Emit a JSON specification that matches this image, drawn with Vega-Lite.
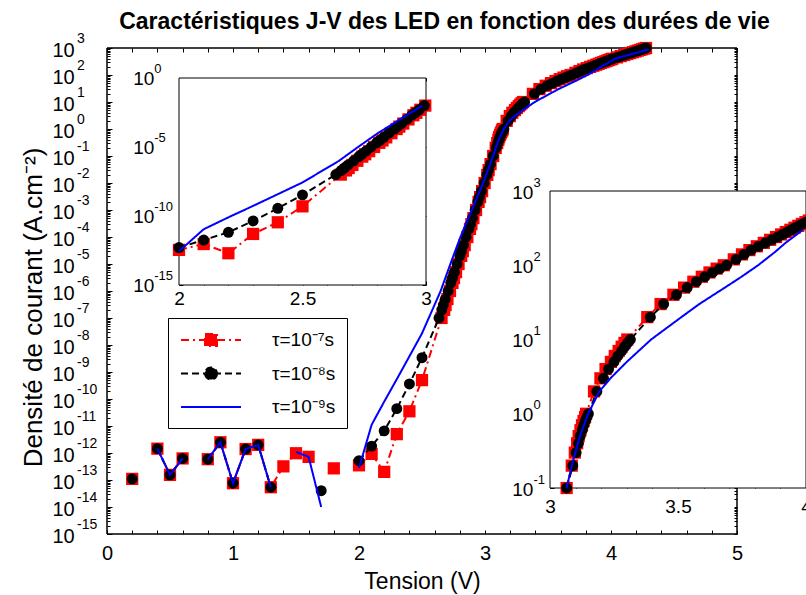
{
  "$schema": "https://vega.github.io/schema/vega-lite/v6.json",
  "width": 699,
  "height": 486,
  "autosize": "none",
  "padding": {"left": 107, "top": 48, "right": 0, "bottom": 61},
  "background": "white",
  "config": {
    "font": "Liberation Sans",
    "view": {"stroke": null},
    "axis": {"grid": false, "domain": false, "tickColor": "black", "labelColor": "black", "titleColor": "black", "labelFont": "Liberation Sans", "titleFont": "Liberation Sans", "labelFontSize": 20, "titleFontSize": 23, "titleFontWeight": "normal", "tickWidth": 1, "labelOverlap": false, "labelFlush": false, "zindex": 1},
    "legend": {"orient": "none", "legendX": 61, "legendY": 270, "fillColor": "white", "strokeColor": "black", "padding": 11, "labelFont": "Liberation Sans", "labelFontSize": 19, "labelColor": "black", "symbolSize": 400, "symbolOffset": 21, "symbolStrokeWidth": 2, "rowPadding": 12.5, "labelOffset": 50, "symbolOpacity": 1, "cornerRadius": 0}
  },
  "title": {"text": "Caractéristiques J-V des LED en fonction des durées de vie", "fontSize": 23, "fontWeight": "bold", "font": "Liberation Sans", "color": "black", "anchor": "middle", "frame": "group", "offset": -21, "baseline": "alphabetic", "dx": -12},
  "datasets": {
    "frame": [{"V": 0, "V2": 5, "J": 1e-15, "J2": 1000}],
    "in1": [{"V": 2, "V2": 3, "J": 1e-15, "J2": 1}],
    "in2": [{"V": 3, "V2": 4, "J": 0.1, "J2": 1000}],
    "d": [
      {"s": "τ=10⁻⁷s", "V": 0.2, "J": 1.1e-13},
      {"s": "τ=10⁻⁷s", "V": 0.3, "J": null},
      {"s": "τ=10⁻⁷s", "V": 0.4, "J": 1.45e-12},
      {"s": "τ=10⁻⁷s", "V": 0.5, "J": 1.55e-13},
      {"s": "τ=10⁻⁷s", "V": 0.6, "J": 6.3e-13},
      {"s": "τ=10⁻⁷s", "V": 0.7, "J": null},
      {"s": "τ=10⁻⁷s", "V": 0.8, "J": 5.9e-13},
      {"s": "τ=10⁻⁷s", "V": 0.9, "J": 2.5e-12},
      {"s": "τ=10⁻⁷s", "V": 1.0, "J": 7.6e-14},
      {"s": "τ=10⁻⁷s", "V": 1.1, "J": 1.4e-12},
      {"s": "τ=10⁻⁷s", "V": 1.2, "J": 2.0e-12},
      {"s": "τ=10⁻⁷s", "V": 1.3, "J": 5.4e-14},
      {"s": "τ=10⁻⁷s", "V": 1.4, "J": 3.2e-13},
      {"s": "τ=10⁻⁷s", "V": 1.5, "J": 9.8e-13},
      {"s": "τ=10⁻⁷s", "V": 1.6, "J": 7.2e-13},
      {"s": "τ=10⁻⁷s", "V": 1.7, "J": null},
      {"s": "τ=10⁻⁷s", "V": 1.8, "J": 2.7e-13},
      {"s": "τ=10⁻⁷s", "V": 1.9, "J": null},
      {"s": "τ=10⁻⁷s", "V": 2.0, "J": 3.5e-13},
      {"s": "τ=10⁻⁷s", "V": 2.1, "J": 9.3e-13},
      {"s": "τ=10⁻⁷s", "V": 2.2, "J": 2.0e-13},
      {"s": "τ=10⁻⁷s", "V": 2.3, "J": 5.0e-12},
      {"s": "τ=10⁻⁷s", "V": 2.4, "J": 3.5e-11},
      {"s": "τ=10⁻⁷s", "V": 2.5, "J": 5.0e-10},
      {"s": "τ=10⁻⁷s", "V": 2.655, "J": 1e-7},
      {"s": "τ=10⁻⁷s", "V": 2.676, "J": 2e-7},
      {"s": "τ=10⁻⁷s", "V": 2.687, "J": 3e-7},
      {"s": "τ=10⁻⁷s", "V": 2.702, "J": 5e-7},
      {"s": "τ=10⁻⁷s", "V": 2.722, "J": 1e-6},
      {"s": "τ=10⁻⁷s", "V": 2.742, "J": 2e-6},
      {"s": "τ=10⁻⁷s", "V": 2.754, "J": 3e-6},
      {"s": "τ=10⁻⁷s", "V": 2.770, "J": 5e-6},
      {"s": "τ=10⁻⁷s", "V": 2.790, "J": 1e-5},
      {"s": "τ=10⁻⁷s", "V": 2.811, "J": 2e-5},
      {"s": "τ=10⁻⁷s", "V": 2.824, "J": 3e-5},
      {"s": "τ=10⁻⁷s", "V": 2.839, "J": 5e-5},
      {"s": "τ=10⁻⁷s", "V": 2.860, "J": 1e-4},
      {"s": "τ=10⁻⁷s", "V": 2.881, "J": 2e-4},
      {"s": "τ=10⁻⁷s", "V": 2.892, "J": 3e-4},
      {"s": "τ=10⁻⁷s", "V": 2.908, "J": 5e-4},
      {"s": "τ=10⁻⁷s", "V": 2.929, "J": 1e-3},
      {"s": "τ=10⁻⁷s", "V": 2.949, "J": 2e-3},
      {"s": "τ=10⁻⁷s", "V": 2.961, "J": 3e-3},
      {"s": "τ=10⁻⁷s", "V": 2.977, "J": 5e-3},
      {"s": "τ=10⁻⁷s", "V": 2.997, "J": 1e-2},
      {"s": "τ=10⁻⁷s", "V": 3.018, "J": 2e-2},
      {"s": "τ=10⁻⁷s", "V": 3.029, "J": 3e-2},
      {"s": "τ=10⁻⁷s", "V": 3.044, "J": 5e-2},
      {"s": "τ=10⁻⁷s", "V": 3.065, "J": 0.1},
      {"s": "τ=10⁻⁷s", "V": 3.085, "J": 0.2},
      {"s": "τ=10⁻⁷s", "V": 3.097, "J": 0.3},
      {"s": "τ=10⁻⁷s", "V": 3.106, "J": 0.4},
      {"s": "τ=10⁻⁷s", "V": 3.112, "J": 0.5},
      {"s": "τ=10⁻⁷s", "V": 3.119, "J": 0.6},
      {"s": "τ=10⁻⁷s", "V": 3.125, "J": 0.7},
      {"s": "τ=10⁻⁷s", "V": 3.131, "J": 0.8},
      {"s": "τ=10⁻⁷s", "V": 3.137, "J": 0.9},
      {"s": "τ=10⁻⁷s", "V": 3.141, "J": 1},
      {"s": "τ=10⁻⁷s", "V": 3.172, "J": 2},
      {"s": "τ=10⁻⁷s", "V": 3.197, "J": 3},
      {"s": "τ=10⁻⁷s", "V": 3.217, "J": 4},
      {"s": "τ=10⁻⁷s", "V": 3.238, "J": 5},
      {"s": "τ=10⁻⁷s", "V": 3.253, "J": 6},
      {"s": "τ=10⁻⁷s", "V": 3.268, "J": 7},
      {"s": "τ=10⁻⁷s", "V": 3.280, "J": 8},
      {"s": "τ=10⁻⁷s", "V": 3.291, "J": 9},
      {"s": "τ=10⁻⁷s", "V": 3.302, "J": 10},
      {"s": "τ=10⁻⁷s", "V": 3.380, "J": 20},
      {"s": "τ=10⁻⁷s", "V": 3.432, "J": 30},
      {"s": "τ=10⁻⁷s", "V": 3.482, "J": 40},
      {"s": "τ=10⁻⁷s", "V": 3.524, "J": 50},
      {"s": "τ=10⁻⁷s", "V": 3.560, "J": 60},
      {"s": "τ=10⁻⁷s", "V": 3.593, "J": 70},
      {"s": "τ=10⁻⁷s", "V": 3.623, "J": 80},
      {"s": "τ=10⁻⁷s", "V": 3.651, "J": 90},
      {"s": "τ=10⁻⁷s", "V": 3.679, "J": 100},
      {"s": "τ=10⁻⁷s", "V": 3.718, "J": 120},
      {"s": "τ=10⁻⁷s", "V": 3.750, "J": 140},
      {"s": "τ=10⁻⁷s", "V": 3.779, "J": 160},
      {"s": "τ=10⁻⁷s", "V": 3.808, "J": 180},
      {"s": "τ=10⁻⁷s", "V": 3.835, "J": 200},
      {"s": "τ=10⁻⁷s", "V": 3.860, "J": 220},
      {"s": "τ=10⁻⁷s", "V": 3.883, "J": 240},
      {"s": "τ=10⁻⁷s", "V": 3.903, "J": 260},
      {"s": "τ=10⁻⁷s", "V": 3.921, "J": 280},
      {"s": "τ=10⁻⁷s", "V": 3.939, "J": 300},
      {"s": "τ=10⁻⁷s", "V": 3.955, "J": 320},
      {"s": "τ=10⁻⁷s", "V": 3.970, "J": 340},
      {"s": "τ=10⁻⁷s", "V": 3.984, "J": 360},
      {"s": "τ=10⁻⁷s", "V": 3.998, "J": 380},
      {"s": "τ=10⁻⁷s", "V": 4.011, "J": 400},
      {"s": "τ=10⁻⁷s", "V": 4.047, "J": 450},
      {"s": "τ=10⁻⁷s", "V": 4.077, "J": 500},
      {"s": "τ=10⁻⁷s", "V": 4.105, "J": 550},
      {"s": "τ=10⁻⁷s", "V": 4.130, "J": 600},
      {"s": "τ=10⁻⁷s", "V": 4.153, "J": 650},
      {"s": "τ=10⁻⁷s", "V": 4.175, "J": 700},
      {"s": "τ=10⁻⁷s", "V": 4.195, "J": 750},
      {"s": "τ=10⁻⁷s", "V": 4.213, "J": 800},
      {"s": "τ=10⁻⁷s", "V": 4.231, "J": 850},
      {"s": "τ=10⁻⁷s", "V": 4.247, "J": 900},
      {"s": "τ=10⁻⁷s", "V": 4.263, "J": 950},
      {"s": "τ=10⁻⁷s", "V": 4.278, "J": 1000},
      {"s": "τ=10⁻⁸s", "V": 0.2, "J": 1.1e-13},
      {"s": "τ=10⁻⁸s", "V": 0.3, "J": null},
      {"s": "τ=10⁻⁸s", "V": 0.4, "J": 1.45e-12},
      {"s": "τ=10⁻⁸s", "V": 0.5, "J": 1.55e-13},
      {"s": "τ=10⁻⁸s", "V": 0.6, "J": 6.3e-13},
      {"s": "τ=10⁻⁸s", "V": 0.7, "J": null},
      {"s": "τ=10⁻⁸s", "V": 0.8, "J": 5.9e-13},
      {"s": "τ=10⁻⁸s", "V": 0.9, "J": 2.5e-12},
      {"s": "τ=10⁻⁸s", "V": 1.0, "J": 7.6e-14},
      {"s": "τ=10⁻⁸s", "V": 1.1, "J": 1.4e-12},
      {"s": "τ=10⁻⁸s", "V": 1.2, "J": 2.0e-12},
      {"s": "τ=10⁻⁸s", "V": 1.3, "J": 5.4e-14},
      {"s": "τ=10⁻⁸s", "V": 1.4, "J": null},
      {"s": "τ=10⁻⁸s", "V": 1.7, "J": 4.0e-14},
      {"s": "τ=10⁻⁸s", "V": 1.8, "J": null},
      {"s": "τ=10⁻⁸s", "V": 2.0, "J": 5.2e-13},
      {"s": "τ=10⁻⁸s", "V": 2.1, "J": 1.8e-12},
      {"s": "τ=10⁻⁸s", "V": 2.2, "J": 6.6e-12},
      {"s": "τ=10⁻⁸s", "V": 2.3, "J": 4.4e-11},
      {"s": "τ=10⁻⁸s", "V": 2.4, "J": 3.6e-10},
      {"s": "τ=10⁻⁸s", "V": 2.5, "J": 3.4e-9},
      {"s": "τ=10⁻⁸s", "V": 2.635, "J": 1e-7},
      {"s": "τ=10⁻⁸s", "V": 2.657, "J": 2e-7},
      {"s": "τ=10⁻⁸s", "V": 2.669, "J": 3e-7},
      {"s": "τ=10⁻⁸s", "V": 2.685, "J": 5e-7},
      {"s": "τ=10⁻⁸s", "V": 2.707, "J": 1e-6},
      {"s": "τ=10⁻⁸s", "V": 2.728, "J": 2e-6},
      {"s": "τ=10⁻⁸s", "V": 2.741, "J": 3e-6},
      {"s": "τ=10⁻⁸s", "V": 2.757, "J": 5e-6},
      {"s": "τ=10⁻⁸s", "V": 2.778, "J": 1e-5},
      {"s": "τ=10⁻⁸s", "V": 2.800, "J": 2e-5},
      {"s": "τ=10⁻⁸s", "V": 2.813, "J": 3e-5},
      {"s": "τ=10⁻⁸s", "V": 2.829, "J": 5e-5},
      {"s": "τ=10⁻⁸s", "V": 2.850, "J": 1e-4},
      {"s": "τ=10⁻⁸s", "V": 2.872, "J": 2e-4},
      {"s": "τ=10⁻⁸s", "V": 2.884, "J": 3e-4},
      {"s": "τ=10⁻⁸s", "V": 2.900, "J": 5e-4},
      {"s": "τ=10⁻⁸s", "V": 2.922, "J": 1e-3},
      {"s": "τ=10⁻⁸s", "V": 2.943, "J": 2e-3},
      {"s": "τ=10⁻⁸s", "V": 2.956, "J": 3e-3},
      {"s": "τ=10⁻⁸s", "V": 2.972, "J": 5e-3},
      {"s": "τ=10⁻⁸s", "V": 2.993, "J": 1e-2},
      {"s": "τ=10⁻⁸s", "V": 3.015, "J": 2e-2},
      {"s": "τ=10⁻⁸s", "V": 3.027, "J": 3e-2},
      {"s": "τ=10⁻⁸s", "V": 3.043, "J": 5e-2},
      {"s": "τ=10⁻⁸s", "V": 3.065, "J": 0.1},
      {"s": "τ=10⁻⁸s", "V": 3.089, "J": 0.2},
      {"s": "τ=10⁻⁸s", "V": 3.102, "J": 0.3},
      {"s": "τ=10⁻⁸s", "V": 3.111, "J": 0.4},
      {"s": "τ=10⁻⁸s", "V": 3.118, "J": 0.5},
      {"s": "τ=10⁻⁸s", "V": 3.126, "J": 0.6},
      {"s": "τ=10⁻⁸s", "V": 3.132, "J": 0.7},
      {"s": "τ=10⁻⁸s", "V": 3.138, "J": 0.8},
      {"s": "τ=10⁻⁸s", "V": 3.144, "J": 0.9},
      {"s": "τ=10⁻⁸s", "V": 3.150, "J": 1},
      {"s": "τ=10⁻⁸s", "V": 3.183, "J": 2},
      {"s": "τ=10⁻⁸s", "V": 3.209, "J": 3},
      {"s": "τ=10⁻⁸s", "V": 3.229, "J": 4},
      {"s": "τ=10⁻⁸s", "V": 3.250, "J": 5},
      {"s": "τ=10⁻⁸s", "V": 3.265, "J": 6},
      {"s": "τ=10⁻⁸s", "V": 3.280, "J": 7},
      {"s": "τ=10⁻⁸s", "V": 3.292, "J": 8},
      {"s": "τ=10⁻⁸s", "V": 3.303, "J": 9},
      {"s": "τ=10⁻⁸s", "V": 3.314, "J": 10},
      {"s": "τ=10⁻⁸s", "V": 3.392, "J": 20},
      {"s": "τ=10⁻⁸s", "V": 3.444, "J": 30},
      {"s": "τ=10⁻⁸s", "V": 3.494, "J": 40},
      {"s": "τ=10⁻⁸s", "V": 3.536, "J": 50},
      {"s": "τ=10⁻⁸s", "V": 3.572, "J": 60},
      {"s": "τ=10⁻⁸s", "V": 3.605, "J": 70},
      {"s": "τ=10⁻⁸s", "V": 3.635, "J": 80},
      {"s": "τ=10⁻⁸s", "V": 3.663, "J": 90},
      {"s": "τ=10⁻⁸s", "V": 3.690, "J": 100},
      {"s": "τ=10⁻⁸s", "V": 3.727, "J": 120},
      {"s": "τ=10⁻⁸s", "V": 3.758, "J": 140},
      {"s": "τ=10⁻⁸s", "V": 3.786, "J": 160},
      {"s": "τ=10⁻⁸s", "V": 3.815, "J": 180},
      {"s": "τ=10⁻⁸s", "V": 3.842, "J": 200},
      {"s": "τ=10⁻⁸s", "V": 3.866, "J": 220},
      {"s": "τ=10⁻⁸s", "V": 3.889, "J": 240},
      {"s": "τ=10⁻⁸s", "V": 3.908, "J": 260},
      {"s": "τ=10⁻⁸s", "V": 3.926, "J": 280},
      {"s": "τ=10⁻⁸s", "V": 3.943, "J": 300},
      {"s": "τ=10⁻⁸s", "V": 3.958, "J": 320},
      {"s": "τ=10⁻⁸s", "V": 3.973, "J": 340},
      {"s": "τ=10⁻⁸s", "V": 3.987, "J": 360},
      {"s": "τ=10⁻⁸s", "V": 4.000, "J": 380},
      {"s": "τ=10⁻⁸s", "V": 4.013, "J": 400},
      {"s": "τ=10⁻⁸s", "V": 4.049, "J": 450},
      {"s": "τ=10⁻⁸s", "V": 4.079, "J": 500},
      {"s": "τ=10⁻⁸s", "V": 4.107, "J": 550},
      {"s": "τ=10⁻⁸s", "V": 4.132, "J": 600},
      {"s": "τ=10⁻⁸s", "V": 4.155, "J": 650},
      {"s": "τ=10⁻⁸s", "V": 4.177, "J": 700},
      {"s": "τ=10⁻⁸s", "V": 4.197, "J": 750},
      {"s": "τ=10⁻⁸s", "V": 4.215, "J": 800},
      {"s": "τ=10⁻⁸s", "V": 4.233, "J": 850},
      {"s": "τ=10⁻⁸s", "V": 4.249, "J": 900},
      {"s": "τ=10⁻⁸s", "V": 4.265, "J": 950},
      {"s": "τ=10⁻⁸s", "V": 4.280, "J": 1000},
      {"s": "τ=10⁻⁹s", "V": 0.2, "J": 1.1e-13},
      {"s": "τ=10⁻⁹s", "V": 0.3, "J": null},
      {"s": "τ=10⁻⁹s", "V": 0.4, "J": 1.45e-12},
      {"s": "τ=10⁻⁹s", "V": 0.5, "J": 1.55e-13},
      {"s": "τ=10⁻⁹s", "V": 0.6, "J": 6.3e-13},
      {"s": "τ=10⁻⁹s", "V": 0.7, "J": null},
      {"s": "τ=10⁻⁹s", "V": 0.8, "J": 5.9e-13},
      {"s": "τ=10⁻⁹s", "V": 0.9, "J": 2.5e-12},
      {"s": "τ=10⁻⁹s", "V": 1.0, "J": 7.6e-14},
      {"s": "τ=10⁻⁹s", "V": 1.1, "J": 1.4e-12},
      {"s": "τ=10⁻⁹s", "V": 1.2, "J": 2.0e-12},
      {"s": "τ=10⁻⁹s", "V": 1.3, "J": 5.4e-14},
      {"s": "τ=10⁻⁹s", "V": 1.4, "J": null},
      {"s": "τ=10⁻⁹s", "V": 1.5, "J": 1.1e-12},
      {"s": "τ=10⁻⁹s", "V": 1.6, "J": 7.2e-13},
      {"s": "τ=10⁻⁹s", "V": 1.7, "J": 1.0e-14},
      {"s": "τ=10⁻⁹s", "V": 1.8, "J": null},
      {"s": "τ=10⁻⁹s", "V": 2.0, "J": 2.8e-13},
      {"s": "τ=10⁻⁹s", "V": 2.1, "J": 1.1e-11},
      {"s": "τ=10⁻⁹s", "V": 2.2, "J": 8e-11},
      {"s": "τ=10⁻⁹s", "V": 2.3, "J": 5.4e-10},
      {"s": "τ=10⁻⁹s", "V": 2.4, "J": 3.8e-9},
      {"s": "τ=10⁻⁹s", "V": 2.5, "J": 2.7e-8},
      {"s": "τ=10⁻⁹s", "V": 2.648, "J": 1e-6},
      {"s": "τ=10⁻⁹s", "V": 2.671, "J": 2e-6},
      {"s": "τ=10⁻⁹s", "V": 2.702, "J": 5e-6},
      {"s": "τ=10⁻⁹s", "V": 2.725, "J": 1e-5},
      {"s": "τ=10⁻⁹s", "V": 2.763, "J": 3e-5},
      {"s": "τ=10⁻⁹s", "V": 2.805, "J": 1e-4},
      {"s": "τ=10⁻⁹s", "V": 2.848, "J": 3e-4},
      {"s": "τ=10⁻⁹s", "V": 2.895, "J": 1e-3},
      {"s": "τ=10⁻⁹s", "V": 2.938, "J": 3e-3},
      {"s": "τ=10⁻⁹s", "V": 2.985, "J": 1e-2},
      {"s": "τ=10⁻⁹s", "V": 3.040, "J": 5e-2},
      {"s": "τ=10⁻⁹s", "V": 3.065, "J": 0.1},
      {"s": "τ=10⁻⁹s", "V": 3.085, "J": 0.2},
      {"s": "τ=10⁻⁹s", "V": 3.117, "J": 0.5},
      {"s": "τ=10⁻⁹s", "V": 3.149, "J": 1},
      {"s": "τ=10⁻⁹s", "V": 3.193, "J": 2},
      {"s": "τ=10⁻⁹s", "V": 3.236, "J": 3},
      {"s": "τ=10⁻⁹s", "V": 3.300, "J": 5},
      {"s": "τ=10⁻⁹s", "V": 3.395, "J": 10},
      {"s": "τ=10⁻⁹s", "V": 3.513, "J": 20},
      {"s": "τ=10⁻⁹s", "V": 3.583, "J": 30},
      {"s": "τ=10⁻⁹s", "V": 3.683, "J": 50},
      {"s": "τ=10⁻⁹s", "V": 3.748, "J": 70},
      {"s": "τ=10⁻⁹s", "V": 3.813, "J": 100},
      {"s": "τ=10⁻⁹s", "V": 3.878, "J": 150},
      {"s": "τ=10⁻⁹s", "V": 3.920, "J": 200},
      {"s": "τ=10⁻⁹s", "V": 3.988, "J": 300},
      {"s": "τ=10⁻⁹s", "V": 4.030, "J": 400},
      {"s": "τ=10⁻⁹s", "V": 4.105, "J": 500},
      {"s": "τ=10⁻⁹s", "V": 4.219, "J": 700},
      {"s": "τ=10⁻⁹s", "V": 4.300, "J": 890}
    ]
  },
  "layer": [
    {
      "data": {"name": "frame"},
      "mark": {"type": "rect", "filled": false, "stroke": "black", "strokeWidth": 1},
      "encoding": {
        "x": {"field": "V", "type": "quantitative", "scale": {"domain": [0, 5], "range": [0, 630], "nice": false, "zero": false}, "axis": {"orient": "top", "values": [0,0.2,0.4,0.6,0.8,1,1.2,1.4,1.6,1.8,2,2.2,2.4,2.6,2.8,3,3.2,3.4,3.6,3.8,4,4.2,4.4,4.6,4.8,5], "labels": false, "tickSize": -4, "title": null}},
        "x2": {"field": "V2"},
        "y": {"field": "J", "type": "quantitative", "scale": {"type": "log", "domain": [1e-15, 1000], "range": [486, 0], "nice": false}, "axis": {"orient": "left", "tickCount": 30, "labels": false, "tickSize": -3, "title": null}},
        "y2": {"field": "J2"}
      }
    },
    {
      "data": {"name": "frame"},
      "mark": {"type": "rect", "filled": false, "stroke": "black", "strokeWidth": 1},
      "encoding": {
        "x": {"field": "V", "type": "quantitative", "scale": {"domain": [0, 5], "range": [0, 630], "nice": false, "zero": false}, "axis": null},
        "x2": {"field": "V2"},
        "y": {"field": "J", "type": "quantitative", "scale": {"type": "log", "domain": [1e-15, 1000], "range": [486, 0], "nice": false}, "axis": {"orient": "right", "offset": -69, "tickCount": 30, "labels": false, "tickSize": -3, "title": null, "zindex": 0}},
        "y2": {"field": "J2"}
      }
    },
    {
      "data": {"name": "frame"},
      "mark": {"type": "rect", "opacity": 0},
      "encoding": {
        "x": {"field": "V", "type": "quantitative", "scale": {"domain": [0, 5], "range": [0, 630], "nice": false, "zero": false}, "axis": null},
        "x2": {"field": "V2"},
        "y": {"field": "J", "type": "quantitative", "scale": {"type": "log", "domain": [1e-15, 1000], "range": [486, 0], "nice": false}, "axis": {"orient": "left", "values": [1e-15,1e-14,1e-13,1e-12,1e-11,1e-10,1e-9,1e-8,1e-7,1e-6,1e-5,1e-4,1e-3,1e-2,1e-1,1,10,100,1000], "labelExpr": "['-15','-14','-13','-12','-11','-10','-9','-8','-7','-6','-5','-4','-3','-2','-1','0','1','2','3'][round(log(datum.value)/LN10)+15]", "ticks": false, "labelAlign": "left", "labelBaseline": "middle", "labelFontSize": 14, "labelPadding": 30.5, "labelOffset": -10, "title": null}},
        "y2": {"field": "J2"}
      }
    },
    {
      "encoding": {
        "x": {"field": "V", "type": "quantitative", "scale": {"domain": [0, 5], "range": [0, 630], "nice": false, "zero": false}, "axis": {"orient": "bottom", "values": [0,0.2,0.4,0.6,0.8,1,1.2,1.4,1.6,1.8,2,2.2,2.4,2.6,2.8,3,3.2,3.4,3.6,3.8,4,4.2,4.4,4.6,4.8,5], "labelExpr": "datum.value % 1 == 0 ? format(datum.value, 'd') : ''", "tickSize": -4, "labelPadding": 13, "title": "Tension (V)", "titleY": 54, "titleBaseline": "alphabetic"}},
        "y": {"field": "J", "type": "quantitative", "scale": {"type": "log", "domain": [1e-15, 1000], "range": [486, 0], "nice": false}, "axis": {"orient": "left", "values": [1e-15,1e-14,1e-13,1e-12,1e-11,1e-10,1e-9,1e-8,1e-7,1e-6,1e-5,1e-4,1e-3,1e-2,1e-1,1,10,100,1000], "labelExpr": "'10'", "labelAlign": "left", "labelBaseline": "middle", "labelOffset": 2, "tickSize": -5, "labelPadding": 60, "title": "Densité de courant (A.cm⁻²)", "titleFontSize": 26, "titleAngle": 270, "titleX": -74, "titleY": 259, "titleBaseline": "middle", "titleAlign": "center"}}
      },
      "layer": [
        {
          "data": {"name": "d"},
          "transform": [{"filter": "false"}],
          "mark": {"type": "point", "filled": true, "opacity": 1, "strokeWidth": 2},
          "encoding": {
            "color": {"field": "s", "type": "nominal", "scale": {"domain": ["τ=10⁻⁷s", "τ=10⁻⁸s", "τ=10⁻⁹s"], "range": ["#ff0000", "#000000", "#0000ff"]}, "legend": {"title": null}},
            "stroke": {"field": "s", "type": "nominal", "scale": {"domain": ["τ=10⁻⁷s", "τ=10⁻⁸s", "τ=10⁻⁹s"], "range": ["#ff0000", "#000000", "#0000ff"]}, "legend": {"title": null}},
            "shape": {"field": "s", "type": "nominal", "scale": {"domain": ["τ=10⁻⁷s", "τ=10⁻⁸s", "τ=10⁻⁹s"], "range": ["M-3,0H3M-0.6,-0.6H0.6V0.6H-0.6Z", "M-3,0H3M0.6,0A0.6,0.6,0,1,1,-0.6,0A0.6,0.6,0,1,1,0.6,0Z", "M-3,0H3"]}, "legend": {"title": null}},
            "strokeDash": {"field": "s", "type": "nominal", "scale": {"domain": ["τ=10⁻⁷s", "τ=10⁻⁸s", "τ=10⁻⁹s"], "range": [[8, 4, 2, 4], [7, 4], [1, 0]]}, "legend": {"title": null}}
          }
        },
        {
          "data": {"name": "d"},
          "transform": [{"filter": {"field": "s", "equal": "τ=10⁻⁷s"}}],
          "mark": {"type": "line", "strokeWidth": 2, "invalid": "break-paths-filter-domains"},
          "encoding": {"color": {"field": "s", "type": "nominal", "legend": null}, "strokeDash": {"field": "s", "type": "nominal", "legend": null}}
        },
        {
          "data": {"name": "d"},
          "transform": [{"filter": {"field": "s", "equal": "τ=10⁻⁷s"}}],
          "mark": {"type": "point", "shape": "square", "filled": true, "size": 150, "opacity": 1},
          "encoding": {"color": {"field": "s", "type": "nominal", "legend": null}}
        },
        {
          "data": {"name": "d"},
          "transform": [{"filter": {"field": "s", "equal": "τ=10⁻⁸s"}}],
          "mark": {"type": "line", "strokeWidth": 2, "invalid": "break-paths-filter-domains"},
          "encoding": {"color": {"field": "s", "type": "nominal", "legend": null}, "strokeDash": {"field": "s", "type": "nominal", "legend": null}}
        },
        {
          "data": {"name": "d"},
          "transform": [{"filter": {"field": "s", "equal": "τ=10⁻⁸s"}}],
          "mark": {"type": "point", "shape": "circle", "filled": true, "size": 120, "opacity": 1},
          "encoding": {"color": {"field": "s", "type": "nominal", "legend": null}}
        },
        {
          "data": {"name": "d"},
          "transform": [{"filter": {"field": "s", "equal": "τ=10⁻⁹s"}}],
          "mark": {"type": "line", "strokeWidth": 2, "invalid": "break-paths-filter-domains"},
          "encoding": {"color": {"field": "s", "type": "nominal", "legend": null}, "strokeDash": {"field": "s", "type": "nominal", "legend": null}}
        }
      ]
    },
    {
      "encoding": {
        "x": {"field": "V", "type": "quantitative", "scale": {"domain": [2, 3], "range": [72, 319], "nice": false, "zero": false}, "axis": {"orient": "bottom", "offset": -249, "values": [2,2.1,2.2,2.3,2.4,2.5,2.6,2.7,2.8,2.9,3], "labelExpr": "indexof([2, 2.5, 3], datum.value) >= 0 ? format(datum.value, '~g') : ''", "tickSize": -4, "labelFontSize": 19, "labelPadding": 8.6, "title": null}},
        "y": {"field": "J", "type": "quantitative", "scale": {"type": "log", "domain": [1e-15, 1], "range": [237, 30], "nice": false}, "axis": {"orient": "left", "offset": -72, "values": [1e-15, 1e-10, 1e-5, 1], "labelExpr": "'10'", "labelAlign": "left", "labelBaseline": "middle", "labelFontSize": 19, "tickSize": -4, "labelPadding": 50.3, "title": null}}
      },
      "layer": [
        {
          "data": {"name": "in1"},
          "mark": {"type": "rect", "fill": "white", "stroke": "black", "strokeWidth": 1},
          "encoding": {"x2": {"field": "V2"}, "y2": {"field": "J2"}}
        },
        {
          "data": {"name": "d"},
          "transform": [{"filter": {"field": "s", "equal": "τ=10⁻⁷s"}}, {"filter": {"field": "V", "range": [1.999, 3.001]}}, {"filter": {"field": "J", "range": [1e-15, 1.0001]}}],
          "mark": {"type": "line", "strokeWidth": 2},
          "encoding": {"color": {"field": "s", "type": "nominal", "legend": null}, "strokeDash": {"field": "s", "type": "nominal", "legend": null}}
        },
        {
          "data": {"name": "d"},
          "transform": [{"filter": {"field": "s", "equal": "τ=10⁻⁷s"}}, {"filter": {"field": "V", "range": [1.999, 3.001]}}, {"filter": {"field": "J", "range": [1e-15, 1.0001]}}],
          "mark": {"type": "point", "shape": "square", "filled": true, "size": 150, "opacity": 1},
          "encoding": {"color": {"field": "s", "type": "nominal", "legend": null}}
        },
        {
          "data": {"name": "d"},
          "transform": [{"filter": {"field": "s", "equal": "τ=10⁻⁸s"}}, {"filter": {"field": "V", "range": [1.999, 3.001]}}, {"filter": {"field": "J", "range": [1e-15, 1.0001]}}],
          "mark": {"type": "line", "strokeWidth": 2},
          "encoding": {"color": {"field": "s", "type": "nominal", "legend": null}, "strokeDash": {"field": "s", "type": "nominal", "legend": null}}
        },
        {
          "data": {"name": "d"},
          "transform": [{"filter": {"field": "s", "equal": "τ=10⁻⁸s"}}, {"filter": {"field": "V", "range": [1.999, 3.001]}}, {"filter": {"field": "J", "range": [1e-15, 1.0001]}}],
          "mark": {"type": "point", "shape": "circle", "filled": true, "size": 120, "opacity": 1},
          "encoding": {"color": {"field": "s", "type": "nominal", "legend": null}}
        },
        {
          "data": {"name": "d"},
          "transform": [{"filter": {"field": "s", "equal": "τ=10⁻⁹s"}}, {"filter": {"field": "V", "range": [1.999, 3.001]}}, {"filter": {"field": "J", "range": [1e-15, 1.0001]}}],
          "mark": {"type": "line", "strokeWidth": 2},
          "encoding": {"color": {"field": "s", "type": "nominal", "legend": null}, "strokeDash": {"field": "s", "type": "nominal", "legend": null}}
        }
      ]
    },
    {
      "encoding": {
        "x": {"field": "V", "type": "quantitative", "scale": {"domain": [3, 4], "range": [443, 699], "nice": false, "zero": false}, "axis": {"orient": "bottom", "offset": -46, "values": [3,3.1,3.2,3.3,3.4,3.5,3.6,3.7,3.8,3.9,4], "labelExpr": "indexof([3, 3.5, 4], datum.value) >= 0 ? format(datum.value, '~g') : ''", "tickSize": -4, "labelFontSize": 19, "labelPadding": 13.7, "title": null}},
        "y": {"field": "J", "type": "quantitative", "scale": {"type": "log", "domain": [0.1, 1000], "range": [440, 143], "nice": false}, "axis": {"orient": "left", "offset": -443, "tickCount": 10, "labelExpr": "abs(log(datum.value)/LN10 - round(log(datum.value)/LN10)) < 0.000001 ? '10' : ''", "labelAlign": "left", "labelBaseline": "middle", "labelFontSize": 19, "labelOffset": 1, "tickSize": -4, "labelPadding": 42.3, "title": null}}
      },
      "layer": [
        {
          "data": {"name": "in2"},
          "mark": {"type": "rect", "fill": "white", "stroke": "black", "strokeWidth": 1},
          "encoding": {"x2": {"field": "V2"}, "y2": {"field": "J2"}}
        },
        {
          "data": {"name": "d"},
          "transform": [{"filter": {"field": "s", "equal": "τ=10⁻⁷s"}}, {"filter": {"field": "V", "range": [3, 4.02]}}, {"filter": {"field": "J", "range": [0.0999, 1001]}}],
          "mark": {"type": "line", "strokeWidth": 2},
          "encoding": {"color": {"field": "s", "type": "nominal", "legend": null}, "strokeDash": {"field": "s", "type": "nominal", "legend": null}}
        },
        {
          "data": {"name": "d"},
          "transform": [{"filter": {"field": "s", "equal": "τ=10⁻⁷s"}}, {"filter": {"field": "V", "range": [3, 4.02]}}, {"filter": {"field": "J", "range": [0.0999, 1001]}}],
          "mark": {"type": "point", "shape": "square", "filled": true, "size": 150, "opacity": 1},
          "encoding": {"color": {"field": "s", "type": "nominal", "legend": null}}
        },
        {
          "data": {"name": "d"},
          "transform": [{"filter": {"field": "s", "equal": "τ=10⁻⁸s"}}, {"filter": {"field": "V", "range": [3, 4.02]}}, {"filter": {"field": "J", "range": [0.0999, 1001]}}],
          "mark": {"type": "line", "strokeWidth": 2},
          "encoding": {"color": {"field": "s", "type": "nominal", "legend": null}, "strokeDash": {"field": "s", "type": "nominal", "legend": null}}
        },
        {
          "data": {"name": "d"},
          "transform": [{"filter": {"field": "s", "equal": "τ=10⁻⁸s"}}, {"filter": {"field": "V", "range": [3, 4.02]}}, {"filter": {"field": "J", "range": [0.0999, 1001]}}],
          "mark": {"type": "point", "shape": "circle", "filled": true, "size": 120, "opacity": 1},
          "encoding": {"color": {"field": "s", "type": "nominal", "legend": null}}
        },
        {
          "data": {"name": "d"},
          "transform": [{"filter": {"field": "s", "equal": "τ=10⁻⁹s"}}, {"filter": {"field": "V", "range": [3, 4.02]}}, {"filter": {"field": "J", "range": [0.0999, 1001]}}],
          "mark": {"type": "line", "strokeWidth": 2},
          "encoding": {"color": {"field": "s", "type": "nominal", "legend": null}, "strokeDash": {"field": "s", "type": "nominal", "legend": null}}
        }
      ]
    },
    {
      "data": {"name": "in1"},
      "mark": {"type": "rect", "opacity": 0},
      "encoding": {
        "x": {"field": "V", "type": "quantitative", "scale": {"domain": [2, 3], "range": [72, 319], "nice": false, "zero": false}, "axis": {"orient": "top", "offset": -30, "values": [2,2.1,2.2,2.3,2.4,2.5,2.6,2.7,2.8,2.9,3], "labels": false, "tickSize": -3, "title": null}},
        "x2": {"field": "V2"},
        "y": {"field": "J", "type": "quantitative", "scale": {"type": "log", "domain": [1e-15, 1], "range": [237, 30], "nice": false}, "axis": {"orient": "left", "offset": -72, "values": [1e-15, 1e-10, 1e-5, 1], "labelExpr": "['-15','-14','-13','-12','-11','-10','-9','-8','-7','-6','-5','-4','-3','-2','-1','0','1','2','3'][round(log(datum.value)/LN10)+15]", "ticks": false, "labelAlign": "left", "labelBaseline": "middle", "labelFontSize": 13, "labelPadding": 25.3, "labelOffset": -10, "title": null}},
        "y2": {"field": "J2"}
      }
    },
    {
      "data": {"name": "in1"},
      "mark": {"type": "rect", "opacity": 0},
      "encoding": {
        "x": {"field": "V", "type": "quantitative", "scale": {"domain": [2, 3], "range": [72, 319], "nice": false, "zero": false}, "axis": null},
        "x2": {"field": "V2"},
        "y": {"field": "J", "type": "quantitative", "scale": {"type": "log", "domain": [1e-15, 1], "range": [237, 30], "nice": false}, "axis": {"orient": "right", "offset": -380, "values": [1e-15, 1e-10, 1e-5, 1], "labels": false, "tickSize": -4, "title": null}},
        "y2": {"field": "J2"}
      }
    },
    {
      "data": {"name": "in2"},
      "mark": {"type": "rect", "opacity": 0},
      "encoding": {
        "x": {"field": "V", "type": "quantitative", "scale": {"domain": [3, 4], "range": [443, 699], "nice": false, "zero": false}, "axis": {"orient": "top", "offset": -143, "values": [3,3.1,3.2,3.3,3.4,3.5,3.6,3.7,3.8,3.9,4], "labels": false, "tickSize": -3, "title": null}},
        "x2": {"field": "V2"},
        "y": {"field": "J", "type": "quantitative", "scale": {"type": "log", "domain": [0.1, 1000], "range": [440, 143], "nice": false}, "axis": {"orient": "left", "offset": -443, "values": [0.1, 1, 10, 100, 1000], "labelExpr": "['-15','-14','-13','-12','-11','-10','-9','-8','-7','-6','-5','-4','-3','-2','-1','0','1','2','3'][round(log(datum.value)/LN10)+15]", "ticks": false, "labelAlign": "left", "labelBaseline": "middle", "labelFontSize": 13, "labelPadding": 17, "labelOffset": -9, "title": null}},
        "y2": {"field": "J2"}
      }
    }
  ],
  "resolve": {"scale": {"x": "independent", "y": "independent"}}
}
